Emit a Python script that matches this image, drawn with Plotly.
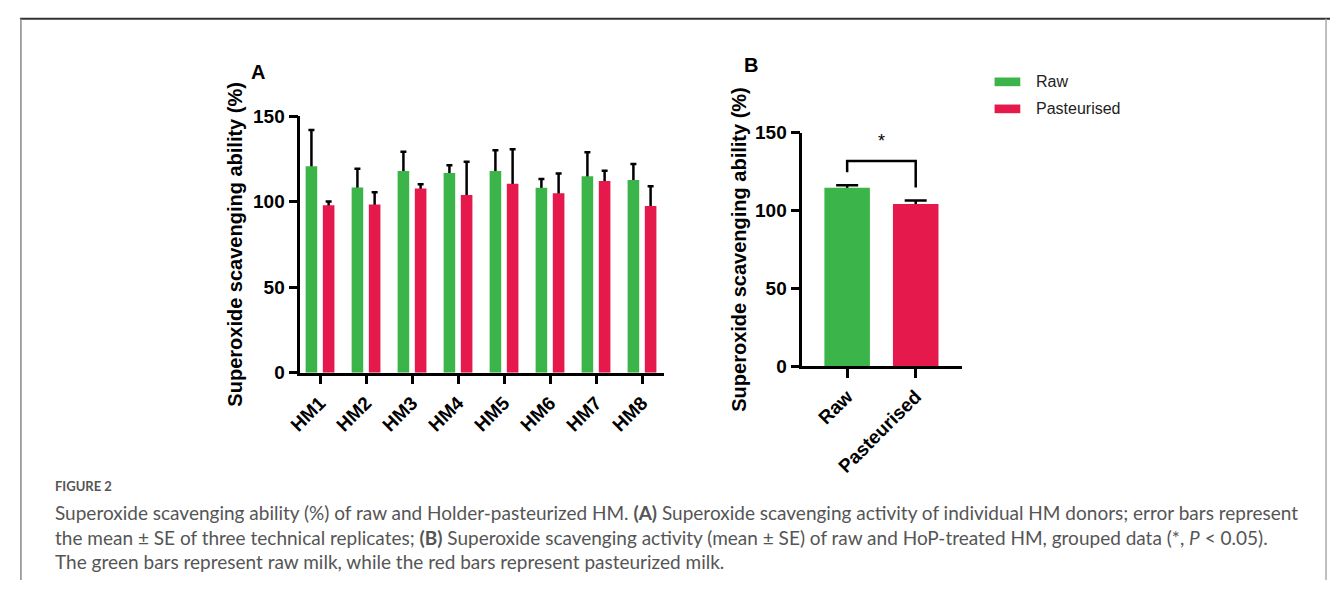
import plotly.graph_objects as go

# ---------------- data ----------------
donors = ["HM1", "HM2", "HM3", "HM4", "HM5", "HM6", "HM7", "HM8"]
raw_mean = [120.7, 108.3, 117.9, 116.7, 117.9, 108.1, 114.8, 112.6]
raw_se = [21.2, 10.9, 11.2, 4.5, 12.2, 5.1, 14.0, 9.4]
past_mean = [97.9, 98.3, 107.7, 103.9, 110.5, 104.9, 112.0, 97.4]
past_se = [2.1, 7.2, 2.5, 19.4, 20.1, 11.6, 6.0, 11.6]

groups = ["Raw", "Pasteurised"]
group_mean = [114.7, 104.3]
group_se = [1.6, 2.1]

sig_bracket = [124.6, 131.8, 114.9]  # left leg end, top, right leg end
sig_label_y = 145.0
y_ticks = [0, 50, 100, 150]

# ---------------- style ----------------
GREEN = "#3bb54a"
RED = "#e5194b"
W, H = 1330, 591
AXFONT = "Liberation Sans, Arial, sans-serif"
CAPFONT = "Lato, Open Sans, sans-serif"

def px(x):
    return x / W

def py(y):
    return 1 - y / H

fig = go.Figure()

# Panel A: error-bar underlays (hidden below the bars) then bars
wA = 0.252
offRaw = -0.313
offPast = 0.061
for mean, se, off in [(raw_mean, raw_se, offRaw), (past_mean, past_se, offPast)]:
    fig.add_trace(go.Bar(
        x=donors, y=mean, width=wA, offset=off,
        marker=dict(color="rgba(0,0,0,0)", line=dict(width=0)),
        error_y=dict(type="data", array=se, symmetric=False, arrayminus=se,
                     color="black", thickness=2.5, width=3),
        showlegend=False, hoverinfo="skip", xaxis="x", yaxis="y"))
for name, mean, off, col in [("Raw", raw_mean, offRaw, GREEN), ("Pasteurised", past_mean, offPast, RED)]:
    fig.add_trace(go.Bar(
        x=donors, y=mean, width=wA, offset=off, name=name,
        marker=dict(color=col, line=dict(width=0)),
        showlegend=False, xaxis="x", yaxis="y"))

# Panel B
wB = 0.664
fig.add_trace(go.Bar(
    x=groups, y=group_mean, width=wB, offset=-wB / 2,
    marker=dict(color="rgba(0,0,0,0)", line=dict(width=0)),
    error_y=dict(type="data", array=group_se, symmetric=False, arrayminus=group_se,
                 color="black", thickness=2.5, width=11),
    showlegend=False, hoverinfo="skip", xaxis="x2", yaxis="y2"))
fig.add_trace(go.Bar(
    x=groups, y=group_mean, width=wB, offset=-wB / 2,
    marker=dict(color=[GREEN, RED], line=dict(width=0)),
    showlegend=False, xaxis="x2", yaxis="y2"))

axis_common = dict(showline=True, linecolor="black", linewidth=2.5, ticks="outside",
                   ticklen=9, tickwidth=2.5, tickcolor="black", showgrid=False,
                   zeroline=False, tickfont=dict(family=AXFONT, size=19, color="black", weight="bold"))

title_font = dict(family=AXFONT, size=20, color="black", weight="bold")

fig.update_layout(
    width=W, height=H, margin=dict(l=0, r=0, t=0, b=0),
    paper_bgcolor="white", plot_bgcolor="white", barmode="overlay",
    xaxis=dict(domain=[px(289.3), px(657)], range=[-0.43, 7.48], type="category",
               tickangle=-45, anchor="y", **axis_common),
    yaxis=dict(domain=[py(376), py(110)], range=[0, 150], tickvals=y_ticks, anchor="x",
               title=dict(text="Superoxide scavenging ability (%)", font=title_font, standoff=5),
               **axis_common),
    xaxis2=dict(domain=[px(796.7), px(958)], range=[-0.654, 1.674], type="category",
                tickangle=-45, anchor="y2", **axis_common),
    yaxis2=dict(domain=[py(369.3), py(127.3)], range=[0, 150], tickvals=y_ticks, anchor="x2",
                title=dict(text="Superoxide scavenging ability (%)", font=title_font, standoff=4),
                **axis_common),
)

# significance bracket
fig.add_shape(type="path", xref="x2", yref="y2",
              path=f"M 0,{sig_bracket[0]} L 0,{sig_bracket[1]} L 1,{sig_bracket[1]} L 1,{sig_bracket[2]}",
              line=dict(color="black", width=2.5))
fig.add_annotation(x=0.5, y=sig_label_y, xref="x2", yref="y2", text="*", showarrow=False,
                   font=dict(family=AXFONT, size=18, color="black"))

# panel letters
fig.add_annotation(x=px(238), y=py(51), xref="paper", yref="paper", text="<b>A</b>",
                   showarrow=False, font=dict(family=AXFONT, size=20, color="black"))
fig.add_annotation(x=px(745), y=py(44), xref="paper", yref="paper", text="<b>B</b>",
                   showarrow=False, font=dict(family=AXFONT, size=20, color="black"))

# legend (manual)
for i, (lab, col) in enumerate([("Raw", GREEN), ("Pasteurised", RED)]):
    yc = 74.5 + 28 * i
    fig.add_shape(type="rect", xref="paper", yref="paper",
                  x0=px(991), x1=px(1017), y0=py(yc - 4.5), y1=py(yc + 4.5),
                  fillcolor=col, line=dict(width=0))
    fig.add_annotation(x=px(1031), y=py(yc), xref="paper", yref="paper", text=lab,
                       xanchor="left", yanchor="middle", showarrow=False,
                       font=dict(family=AXFONT, size=16, color="#222"))

# frame
fig.add_shape(type="line", xref="paper", yref="paper", x0=px(6), x1=px(1330), y0=py(9), y1=py(9),
              line=dict(color="#333", width=2))
fig.add_shape(type="line", xref="paper", yref="paper", x0=px(7), x1=px(7), y0=py(9), y1=py(591),
              line=dict(color="#888", width=1.5))
fig.add_shape(type="line", xref="paper", yref="paper", x0=px(1326), x1=px(1326), y0=py(9), y1=py(591),
              line=dict(color="#aaa", width=1.5))

# caption
cap_lines = [
    ("FIGURE 2", 494, 13),
    ("Superoxide scavenging ability (%) of raw and Holder-pasteurized HM. <b>(A)</b> Superoxide scavenging activity of individual HM donors; error bars represent", 521, 19),
    ("the mean ± SE of three technical replicates; <b>(B)</b> Superoxide scavenging activity (mean ± SE) of raw and HoP-treated HM, grouped data (*, <i>P</i> &lt; 0.05).", 547, 19),
    ("The green bars represent raw milk, while the red bars represent pasteurized milk.", 572, 19),
]
for txt, yv, sz in cap_lines:
    fig.add_annotation(x=px(39), y=py(yv), xref="paper", yref="paper", text=txt,
                       xanchor="left", yanchor="middle", showarrow=False,
                       font=dict(family=CAPFONT, size=sz, color="#555",
                                 weight="bold" if txt.startswith("FIGURE") else "normal"))

fig.write_html("out.html", config={"displayModeBar": False},
               post_script="document.body.style.margin='0';document.body.style.overflow='hidden';")
